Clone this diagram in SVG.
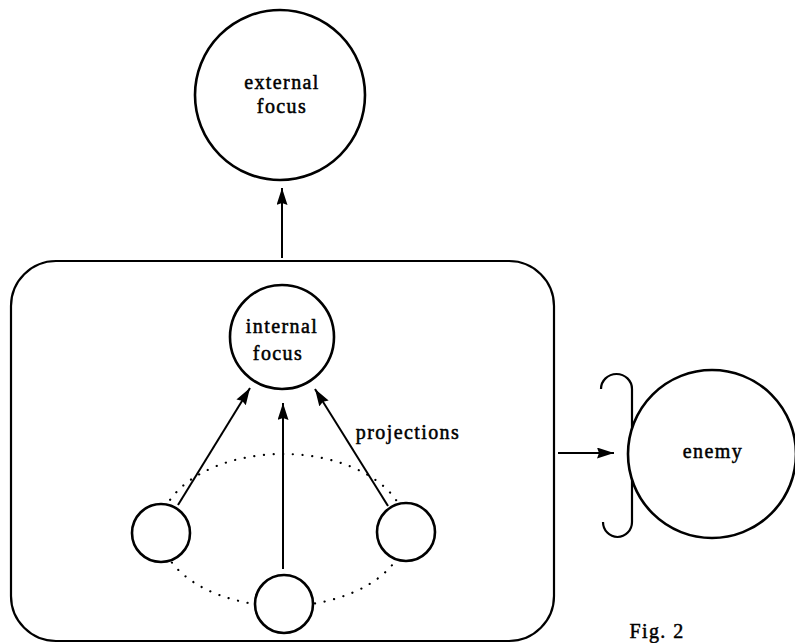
<svg xmlns="http://www.w3.org/2000/svg" width="795" height="643" viewBox="0 0 795 643">
<style>
.node{fill:#fff;stroke:#000;stroke-width:2.6}
.frame{fill:none;stroke:#000;stroke-width:2.2}
.conn{fill:none;stroke:#000;stroke-width:2}
.dot{fill:none;stroke:#000;stroke-width:2.2;stroke-linecap:round;stroke-dasharray:0.1 9.6}
.lbl{font-family:"Liberation Serif","Times New Roman",serif;font-size:20px;letter-spacing:1.4px;fill:#000;stroke:#000;stroke-width:0.5;text-anchor:middle}
</style>
<defs>
<marker id="ah" markerUnits="userSpaceOnUse" markerWidth="20" markerHeight="12" refX="17" refY="5.5" orient="auto">
<path d="M0,0 L17,5.5 L0,11 L2,5.5 z" fill="#000"/>
</marker>
</defs>
<rect id="self" class="frame" x="11" y="261" width="543" height="380" rx="45" ry="45"/>
<ellipse id="group-ring" class="dot" cx="283" cy="530" rx="123" ry="76"/>
<g id="connectors">
<line class="conn" x1="282" y1="258" x2="282" y2="188" marker-end="url(#ah)"/>
<line class="conn" x1="178" y1="505" x2="250" y2="388" marker-end="url(#ah)"/>
<line class="conn" x1="283" y1="569" x2="283" y2="403" marker-end="url(#ah)"/>
<line class="conn" x1="388" y1="506" x2="315" y2="389" marker-end="url(#ah)"/>
<line class="conn" x1="558" y1="453" x2="614" y2="453" marker-end="url(#ah)"/>
</g>
<g id="external-focus">
<circle class="node" cx="280" cy="95" r="85"/>
<text class="lbl" x="282" y="89">external</text>
<text class="lbl" x="282" y="113">focus</text>
</g>
<g id="internal-focus">
<circle class="node" cx="282" cy="337" r="52"/>
<text class="lbl" x="282" y="333">internal</text>
<text class="lbl" x="278" y="360">focus</text>
</g>
<g id="member-left"><circle class="node" cx="161" cy="533" r="29"/></g>
<g id="member-right"><circle class="node" cx="406" cy="532" r="29"/></g>
<g id="member-bottom"><circle class="node" cx="284" cy="604" r="29"/></g>
<text id="projections" class="lbl" x="408" y="439">projections</text>
<g id="enemy">
<path class="frame" d="M601,389 A15.5,15 0 0 1 632,389 L632,522 A14.5,15 0 0 1 603,522"/>
<circle class="node" cx="712" cy="454" r="84"/>
<text class="lbl" x="713" y="458">enemy</text>
</g>
<text id="caption" class="lbl" x="657" y="638" font-size="18">Fig. 2</text>
</svg>
